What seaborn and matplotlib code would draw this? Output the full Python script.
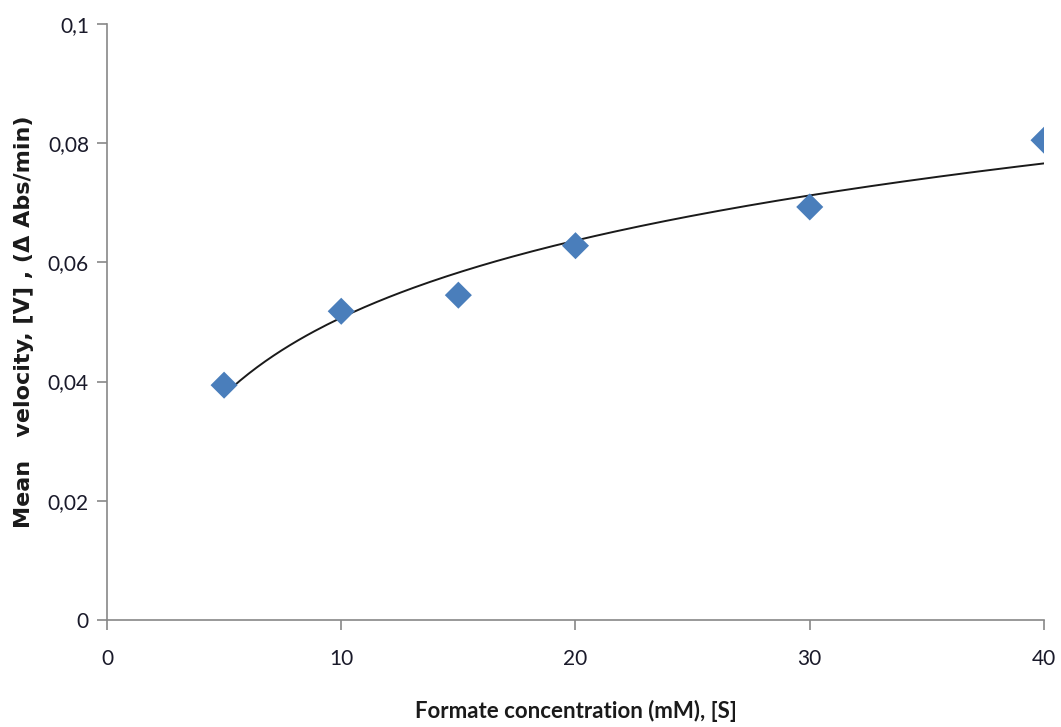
import numpy as np
import pandas as pd
import matplotlib
matplotlib.use("Agg")
import matplotlib.pyplot as plt
import seaborn as sns

# data
conc = [5, 10, 15, 20, 30, 40]
velocity = [0.0394, 0.0518, 0.0545, 0.0628, 0.0693, 0.0805]
x_ticks = [0, 10, 20, 30, 40]
y_ticks = [0, 0.02, 0.04, 0.06, 0.08, 0.1]
y_tick_labels = ["0", "0,02", "0,04", "0,06", "0,08", "0,1"]

sns.set_style("white")
plt.rcParams['font.family'] = ['Lato', 'DejaVu Sans']

df = pd.DataFrame({"S": conc, "V": velocity})

# logarithmic trendline fitted to the points
a, b = np.polyfit(np.log(df["S"]), df["V"], 1)
xs = np.linspace(min(conc), max(conc), 200)
fit = pd.DataFrame({"S": xs, "V": a * np.log(xs) + b})

fig = plt.figure(figsize=(10.61, 7.27), dpi=100)
ax = fig.add_axes([0.1008, 0.1472, 0.8832, 0.8198])

sns.lineplot(data=fit, x="S", y="V", ax=ax, color="#1a1a1a", lw=1.4)
sns.scatterplot(data=df, x="S", y="V", ax=ax, marker="D", s=190,
                color="#4A7EBB", edgecolor="none", zorder=3)

ax.set_xlim(0, 40)
ax.set_ylim(0, 0.1)
ax.set_xticks(x_ticks)
ax.set_yticks(y_ticks)
ax.set_yticklabels(y_tick_labels)

for s in ["top", "right"]:
    ax.spines[s].set_visible(False)
for s in ["left", "bottom"]:
    ax.spines[s].set_color("#888888")
    ax.spines[s].set_linewidth(1.2)
ax.tick_params(axis="both", bottom=True, left=True, direction="out", length=7,
               width=1.2, color="#888888", labelsize=15, labelcolor="#1a1a2a")
ax.tick_params(axis="x", pad=14)
ax.tick_params(axis="y", pad=6)

ax.set_xlabel("Formate concentration (mM), [S]", fontsize=16, fontweight="bold",
              labelpad=22, color="#1a1a1a")
ax.set_ylabel("Mean   velocity, [V] , (\u0394 Abs/min)", fontsize=16, fontweight="bold",
              family=["DejaVu Sans"], labelpad=10, color="#1a1a1a")

plt.savefig("out.png", dpi=100)
